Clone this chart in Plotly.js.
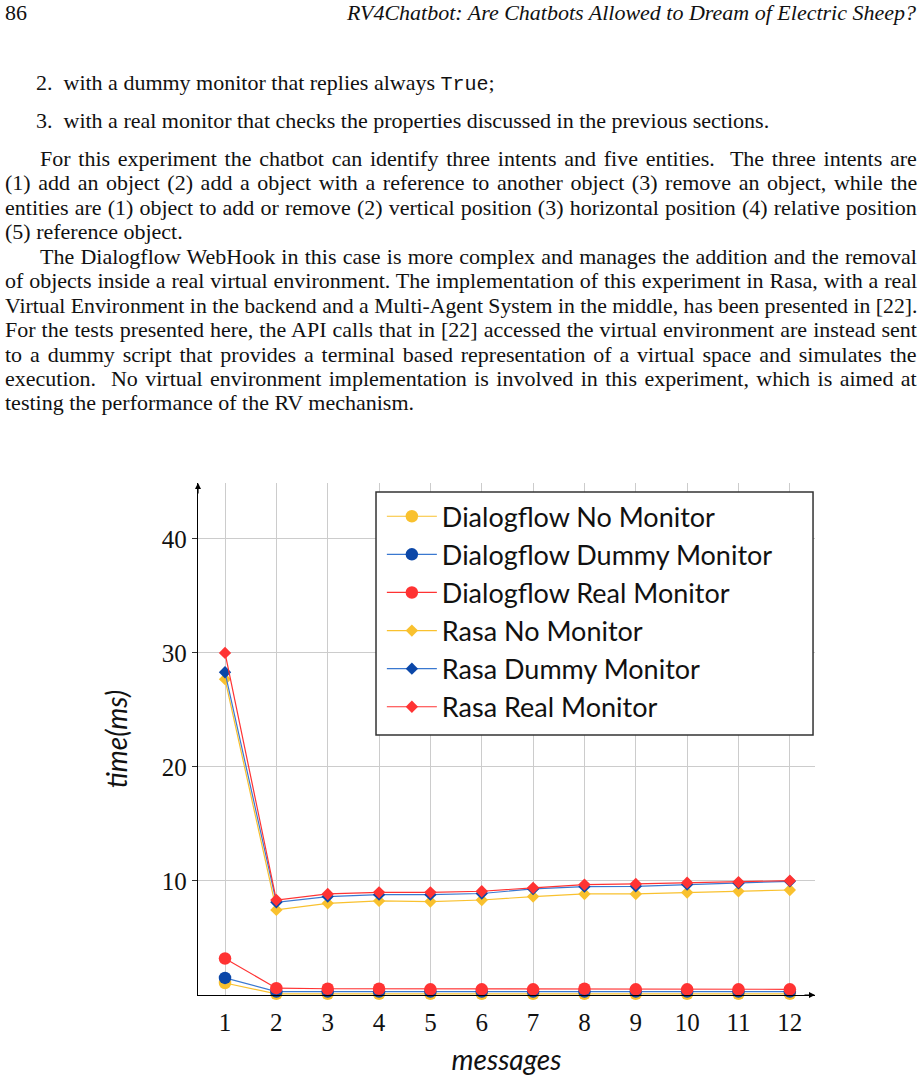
<!DOCTYPE html>
<html>
<head>
<meta charset="utf-8">
<script src="https://cdn.plot.ly/plotly-3.0.1.min.js"></script>
<style>
  body { margin: 0; background: #fff; }
  #page { position: relative; width: 921px; height: 1083px; overflow: hidden;
          font-family: "Liberation Serif", serif; font-size: 22px; color: #111; }
  .ln { position: absolute; white-space: nowrap; line-height: 1; }
  .j { transform-origin: 0 0; }
  .tt { font-family: "Liberation Mono", monospace; font-size: 20px; }
  #chart { position: absolute; left: 0; top: 440px; width: 921px; height: 643px; }
</style>
</head>
<body>
<div id="page">
  <div class="ln" style="left:5px;top:2px;">86</div>
  <div class="ln" style="right:5px;top:2px;font-style:italic;">RV4Chatbot: Are Chatbots Allowed to Dream of Electric Sheep?</div>

  <div class="ln" style="left:36px;top:72px;">2.&nbsp; with a dummy monitor that replies always <span class="tt">True</span>;</div>
  <div class="ln" style="left:36px;top:110px;">3.&nbsp; with a real monitor that checks the properties discussed in the previous sections.</div>

  <div class="ln j" data-w="877" style="left:40px;top:148px;">For this experiment the chatbot can identify three intents and five entities.&nbsp; The three intents are</div>
  <div class="ln j" data-w="912" style="left:5px;top:172px;">(1) add an object (2) add a object with a reference to another object (3) remove an object, while the</div>
  <div class="ln j" data-w="912" style="left:5px;top:197px;">entities are (1) object to add or remove (2) vertical position (3) horizontal position (4) relative position</div>
  <div class="ln" style="left:5px;top:221px;">(5) reference object.</div>
  <div class="ln j" data-w="877" style="left:40px;top:246px;">The Dialogflow WebHook in this case is more complex and manages the addition and the removal</div>
  <div class="ln j" data-w="912" style="left:5px;top:270px;">of objects inside a real virtual environment. The implementation of this experiment in Rasa, with a real</div>
  <div class="ln j" data-w="912" style="left:5px;top:295px;">Virtual Environment in the backend and a Multi-Agent System in the middle, has been presented in [22].</div>
  <div class="ln j" data-w="912" style="left:5px;top:319px;">For the tests presented here, the API calls that in [22] accessed the virtual environment are instead sent</div>
  <div class="ln j" data-w="912" style="left:5px;top:344px;">to a dummy script that provides a terminal based representation of a virtual space and simulates the</div>
  <div class="ln j" data-w="912" style="left:5px;top:368px;">execution.&nbsp; No virtual environment implementation is involved in this experiment, which is aimed at</div>
  <div class="ln" style="left:5px;top:392px;">testing the performance of the RV mechanism.</div>

  <div id="chart"></div>
</div>
<script>
// stretch or squeeze each full text line to its measure, like a justified page
document.querySelectorAll('.j').forEach(el => {
  let target = +el.dataset.w;
  let natural = el.scrollWidth;
  let spaces = (el.textContent.match(/[ \u00a0]/g) || []).length;
  if (natural < target && spaces) {
    el.style.wordSpacing = ((target - natural) / spaces) + 'px';
  } else if (natural > target) {
    el.style.transform = 'scaleX(' + (target / natural) + ')';
  }
});

// messages sent in a session
let messages = [1, 2, 3, 4, 5, 6, 7, 8, 9, 10, 11, 12];

// response times (ms)
let dfNoMonitor    = [1.05, 0.1, 0.1, 0.1, 0.1, 0.1, 0.1, 0.1, 0.1, 0.1, 0.1, 0.1];
let dfDummyMonitor = [1.5, 0.3, 0.3, 0.3, 0.3, 0.3, 0.3, 0.3, 0.3, 0.3, 0.3, 0.3];
let dfRealMonitor  = [3.2, 0.6, 0.55, 0.55, 0.5, 0.5, 0.5, 0.55, 0.5, 0.5, 0.5, 0.5];
let rasaNoMonitor    = [27.7, 7.46, 8.04, 8.25, 8.19, 8.33, 8.63, 8.86, 8.86, 8.98, 9.09, 9.21];
let rasaDummyMonitor = [28.3, 8.13, 8.63, 8.8, 8.8, 8.9, 9.3, 9.5, 9.53, 9.68, 9.8, 9.97];
let rasaRealMonitor  = [30.0, 8.33, 8.86, 9.0, 9.0, 9.1, 9.4, 9.68, 9.74, 9.85, 9.9, 10.03];

let yTicks = [10, 20, 30, 40];

let yellow = '#f9c12e';
let blue = '#0b47a8';
let blueLine = '#3a78d0';
let red = '#ff3333';

function series(name, ys, lineColor, markColor, symbol, size) {
  return {
    x: messages,
    y: ys,
    name: name,
    legendgroup: name,
    mode: 'lines+markers',
    line: { color: lineColor, width: 1.2 },
    marker: { color: markColor, symbol: symbol, size: size },
    cliponaxis: false
  };
}

let traces = [
  series('Dialogflow No Monitor', dfNoMonitor, yellow, yellow, 'circle', 12.5),
  series('Dialogflow Dummy Monitor', dfDummyMonitor, blueLine, blue, 'circle', 12.5),
  series('Dialogflow Real Monitor', dfRealMonitor, red, red, 'circle', 12.5),
  series('Rasa No Monitor', rasaNoMonitor, yellow, yellow, 'diamond', 9.5),
  series('Rasa Dummy Monitor', rasaDummyMonitor, blueLine, blue, 'diamond', 9.5),
  series('Rasa Real Monitor', rasaRealMonitor, red, red, 'diamond', 9.5)
];

let layout = {
  width: 921,
  height: 643,
  margin: { l: 198, r: 106, t: 43, b: 88 },
  paper_bgcolor: 'rgba(0,0,0,0)',
  plot_bgcolor: 'rgba(0,0,0,0)',
  showlegend: true,
  legend: {
    x: 0.298, y: 0.982, xanchor: 'left', yanchor: 'top',
    bgcolor: 'rgba(0,0,0,0)', borderwidth: 0,
    font: { family: 'Lato, sans-serif', size: 27, color: '#111' },
    traceorder: 'grouped',
    tracegroupgap: 0,
    itemwidth: 50
  },
  // the legend frame, wider than the entries as in the original
  shapes: [
    { type: 'rect', xref: 'paper', yref: 'paper', layer: 'above',
      x0: 0.2885, x1: 0.9968, y0: 0.5078, y1: 0.9824,
      fillcolor: '#fff', line: { color: '#333', width: 1.5 } }
  ],
  xaxis: {
    range: [0.474, 12.49],
    tickvals: messages,
    ticks: 'outside', ticklen: 5, tickcolor: 'rgba(0,0,0,0)',
    showgrid: true, gridcolor: '#cccccc', gridwidth: 1,
    zeroline: false,
    showline: true, linecolor: '#000', linewidth: 1.2,
    tickfont: { family: 'Liberation Serif, serif', size: 25, color: '#111' },
    title: { text: 'messages', standoff: 15,
             font: { family: 'Lato, sans-serif', size: 28, color: '#111', style: 'italic' } }
  },
  yaxis: {
    range: [0, 44.9],
    tickvals: yTicks,
    ticks: 'outside', ticklen: 5, tickcolor: '#333',
    showgrid: true, gridcolor: '#cccccc', gridwidth: 1,
    zeroline: false,
    showline: true, linecolor: '#000', linewidth: 1.2,
    tickfont: { family: 'Liberation Serif, serif', size: 25, color: '#111' },
    title: { text: 'time(ms)', standoff: 26,
             font: { family: 'Lato, sans-serif', size: 28, color: '#111', style: 'italic' } }
  },
  annotations: [
    { xref: 'paper', yref: 'paper', x: 1.0, y: 0, ax: -12, ay: 0,
      text: '', showarrow: true, arrowhead: 2, arrowsize: 1, arrowwidth: 1.2, arrowcolor: '#000' },
    { xref: 'paper', yref: 'paper', x: 0, y: 1.0, ax: 0, ay: 12,
      text: '', showarrow: true, arrowhead: 2, arrowsize: 1, arrowwidth: 1.2, arrowcolor: '#000' }
  ]
};

Plotly.newPlot('chart', traces, layout, { displayModeBar: false, staticPlot: true });
</script>
</body>
</html>
